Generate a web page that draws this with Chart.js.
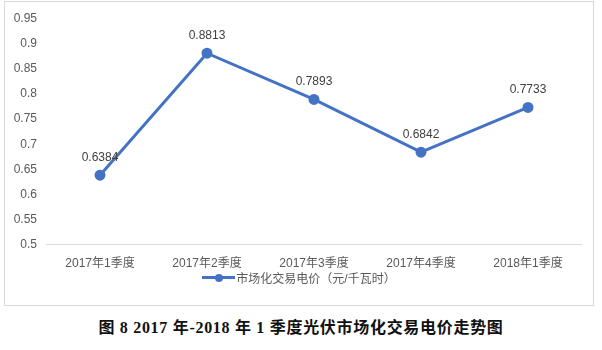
<!DOCTYPE html>
<html><head><meta charset="utf-8">
<script src="https://cdn.jsdelivr.net/npm/chart.js@4/dist/chart.umd.min.js"></script>
<style>
html,body{margin:0;padding:0;background:#fff;width:602px;height:350px;overflow:hidden;}
#box{position:absolute;left:4px;top:1px;width:588px;height:303px;border:1px solid #d9d9d9;}
#wrap{position:absolute;left:0;top:0;width:588px;height:303px;}
#legend{position:absolute;left:0;top:267px;width:100%;text-align:center;font:12px "Liberation Sans","Noto Sans CJK SC",sans-serif;color:#595959;white-space:nowrap;}
#legend .mk{display:inline-block;position:relative;width:33px;height:12px;vertical-align:middle;margin-right:1px;}
#legend .mk:before{content:"";position:absolute;left:0;right:0;top:4.5px;height:3px;background:#4472C4;}
#legend .mk:after{content:"";position:absolute;left:12.5px;top:2px;width:8px;height:8px;border-radius:50%;background:#4472C4;}
#legend span.t{vertical-align:middle;}
#cap{position:absolute;left:0;top:314px;width:602px;text-align:center;font:bold 16px "Liberation Serif","Noto Sans CJK SC",serif;letter-spacing:0.7px;color:#111;white-space:nowrap;}
</style></head>
<body>
<div id="box"><div id="wrap"><canvas id="c"></canvas></div>
<div id="legend"><span class="mk"></span><span class="t">市场化交易电价（元/千瓦时）</span></div>
</div>
<div id="cap">图 8 2017 年-2018 年 1 季度光伏市场化交易电价走势图</div>
<script>
const categories = ["2017年1季度","2017年2季度","2017年3季度","2017年4季度","2018年1季度"];
const prices = [0.6384, 0.8813, 0.7893, 0.6842, 0.7733];
const seriesName = "市场化交易电价（元/千瓦时）";
const yMin = 0.5, yMax = 0.95, yStep = 0.05;

const labelPlugin = {
  id: 'valLabels',
  afterDatasetsDraw(chart) {
    const ctx = chart.ctx;
    const meta = chart.getDatasetMeta(0);
    ctx.save();
    ctx.font = '12px "Liberation Sans", sans-serif';
    ctx.fillStyle = '#404040';
    ctx.textAlign = 'center';
    ctx.textBaseline = 'middle';
    meta.data.forEach((pt, i) => {
      ctx.fillText(prices[i].toFixed(4), pt.x, pt.y - 18);
    });
    ctx.restore();
  }
};

new Chart(document.getElementById('c'), {
  type: 'line',
  data: {
    labels: categories,
    datasets: [{
      label: seriesName,
      data: prices,
      borderColor: '#4472C4',
      backgroundColor: '#4472C4',
      borderWidth: 3,
      pointRadius: 4,
      pointHoverRadius: 4,
      pointBackgroundColor: '#4472C4',
      pointBorderColor: '#4472C4',
      tension: 0
    }]
  },
  options: {
    responsive: true,
    maintainAspectRatio: false,
    animation: false,
    devicePixelRatio: 1,
    layout: { padding: { left: 0, right: 11.5, top: 14.7, bottom: 22.5 } },
    plugins: { legend: { display: false }, tooltip: { enabled: false } },
    scales: {
      x: {
        offset: true,
        grid: { display: false, drawTicks: false },
        border: { display: true, color: '#d9d9d9', width: 1 },
        ticks: { color: '#595959', font: { size: 12, family: '"Liberation Sans", "Noto Sans CJK SC", sans-serif' }, padding: 11.7, maxRotation: 0, autoSkip: false }
      },
      y: {
        min: yMin, max: yMax,
        grid: { display: false, drawTicks: false },
        border: { display: false },
        afterFit(scale) { scale.width = 41.5; },
        ticks: {
          stepSize: yStep,
          color: '#595959',
          font: { size: 12, family: '"Liberation Sans", sans-serif' },
          padding: 9.5,
          callback: v => String(parseFloat(Number(v).toFixed(2)))
        }
      }
    }
  },
  plugins: [labelPlugin]
});
</script>
</body></html>
